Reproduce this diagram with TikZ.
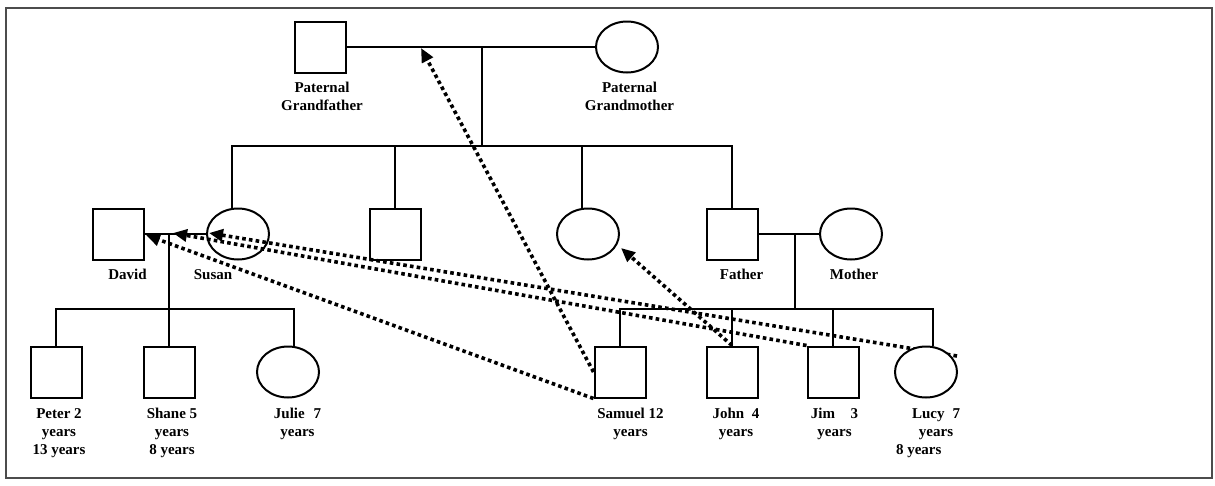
\documentclass[tikz,border=0pt]{standalone}
\usepackage{fontspec}
\setmainfont{Liberation Serif}
\usetikzlibrary{shapes.geometric,arrows.meta,backgrounds}
\begin{document}
\begin{tikzpicture}[x=1pt,y=-1pt,
  male/.style={draw,line width=2pt,rectangle,minimum width=51pt,minimum height=51pt,inner sep=0pt},
  female/.style={draw,line width=2pt,ellipse,minimum width=62pt,minimum height=51pt,inner sep=0pt},
  lbl/.style={font=\fontsize{15}{18}\selectfont\bfseries,align=center,inner sep=0pt,anchor=north},
  rel/.style={line width=1.8pt},
  link/.style={line width=3.6pt,dash pattern=on 3.6pt off 3.2pt,-{Triangle[length=14pt,width=12pt]}}]
\useasboundingbox (0,0) rectangle (1215,485);
\draw[line width=1.4pt,black!70] (6,8) rectangle (1212,478);

% people
\node[male] (pgf) at (320,47) {};
\node[female] (pgm) at (627,47) {};
\node[male] (david) at (118,234) {};
\node[female] (susan) at (238,234) {};
\node[male] (uncle) at (395,234) {};
\node[female] (aunt) at (588,234) {};
\node[male] (father) at (732,234) {};
\node[female] (mother) at (851,234) {};
\node[male] (peter) at (56,372) {};
\node[male] (shane) at (169,372) {};
\node[female] (julie) at (288,372) {};
\node[male] (samuel) at (620,372) {};
\node[male] (john) at (732,372) {};
\node[male] (jim) at (833,372) {};
\node[female,fill=white] (lucy) at (926,372) {};

% junction coordinates
\coordinate (gpm) at (482,47);
\coordinate (gpb) at (482,146);
\coordinate (sdrop) at (232,146);
\coordinate (adrop) at (582,146);
\coordinate (fm) at (795,234);
\coordinate (fmb) at (795,309);
\coordinate (lucyb) at (933,309);
\coordinate (ds) at (169,234);
\coordinate (dsb) at (169,309);
\coordinate (julieb) at (294,309);

% relationship lines
\draw[rel] (pgf.east) -- (pgm.west);
\draw[rel] (gpm) -- (gpb);
\draw[rel] (susan.north -| sdrop) -- (sdrop) -| (father.north);
\draw[rel] (uncle.north) -- (uncle.north |- gpb);
\draw[rel] (aunt.north -| adrop) -- (adrop);
\draw[rel] (father.east) -- (mother.west);
\draw[rel] (fm) -- (fmb);
\draw[rel] (samuel.north) |- (lucyb) -- (lucy.north -| lucyb);
\draw[rel] (john.north) -- (john.north |- fmb);
\draw[rel] (jim.north) -- (jim.north |- fmb);
\draw[rel] (david.east) -- (susan.west);
\draw[rel] (ds) -- (dsb);
\draw[rel] (peter.north) |- (julieb) -- (julie.north -| julieb);
\draw[rel] (shane.north) -- (shane.north |- dsb);

% labels
\node[lbl] (lpgf) at (322,82) {Paternal\\Grandfather};
\node[lbl] (lpgm) at (629.5,82) {Paternal\\Grandmother};
\node[lbl] (ldavid) at (127.5,269) {David};
\node[lbl] (lsusan) at (213,269) {Susan};
\node[lbl] (lfather) at (741.5,269) {Father};
\node[lbl] (lmother) at (854,269) {Mother};
\node[lbl] (lpeter) at (59,408) {Peter 2\\years\\13 years};
\node[lbl] (lshane) at (172,408) {Shane 5\\years\\8 years};
\node[lbl] (ljulie) at (297.5,408) {Julie\hspace{8.7pt}7\\years};
\node[lbl] (lsamuel) at (630.5,408) {Samuel 12\\years};
\node[lbl] (ljohn) at (736,408) {John\hspace{7.8pt}4\\years};
\node[lbl] (ljim) at (834.5,408) {Jim\hspace{15.5pt}3\\years};
\node[lbl] (llucy) at (936,408) {Lucy\hspace{8pt}7\\years\\\makebox[80pt][l]{8 years}};

% dotted arrows
\coordinate (t1) at (421,48);
\coordinate (t2) at (146,235);
\coordinate (t3) at (173,233);
\coordinate (t4) at (209,233);
\coordinate (t5) at (621,248);
\coordinate (lucye) at (957,356);
\begin{pgfonlayer}{background}
\draw[link] (samuel.west) -- (t1);
\draw[link] (samuel.south west) -- (t2);
\draw[link] (jim.north west) -- (t3);
\draw[link] (lucye) -- (t4);
\draw[link] (john.north) -- (t5);
\end{pgfonlayer}
\end{tikzpicture}
\end{document}
